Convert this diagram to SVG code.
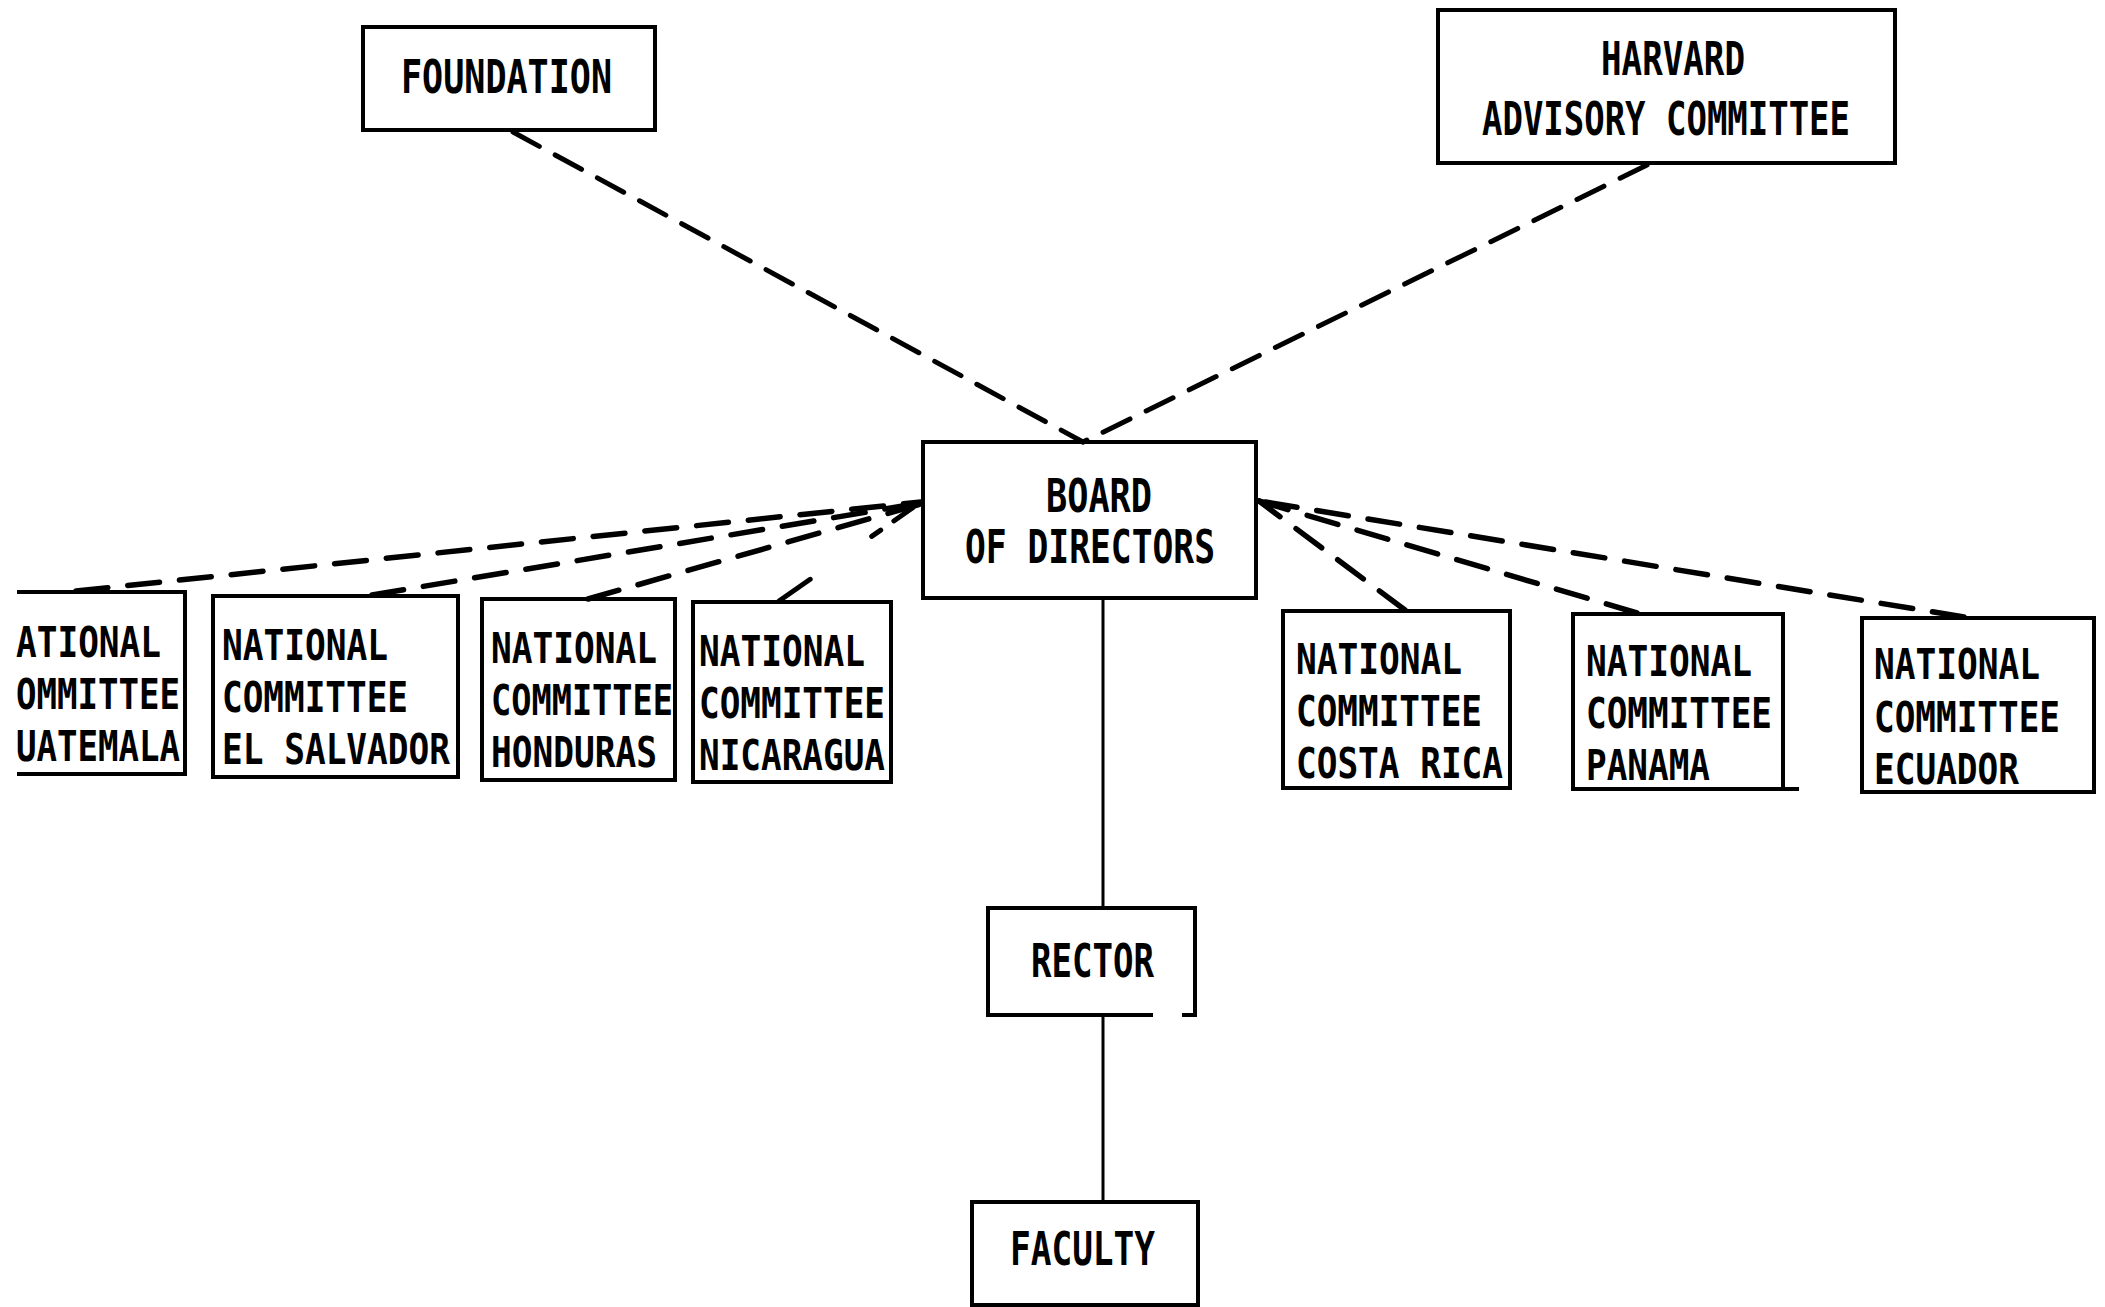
<svg xmlns="http://www.w3.org/2000/svg" width="2105" height="1307" viewBox="0 0 2105 1307">
<style>
.box{fill:none;stroke:#000;stroke-width:4;stroke-linejoin:miter}
.t{font-family:"DejaVu Sans Mono","Liberation Mono",monospace;font-size:46px;font-weight:bold;fill:#000}
.c{font-family:"DejaVu Sans Mono","Liberation Mono",monospace;font-size:43px;font-weight:bold;fill:#000}
.dash{stroke:#000;stroke-width:5;fill:none;stroke-dasharray:30 18;stroke-linecap:round}
.dash2{stroke:#000;stroke-width:5.5;fill:none;stroke-dasharray:32 20;stroke-linecap:round}
.solid{stroke:#000;stroke-width:3;fill:none}
</style>
<rect width="2105" height="1307" fill="#fff"/>
<g id="connectors">
<line class="dash" x1="513" y1="132" x2="1083" y2="442"/>
<line class="dash" x1="1647" y1="165" x2="1083" y2="442"/>
<line class="dash2" x1="76" y1="591" x2="921" y2="502"/>
<line class="dash2" x1="372" y1="595" x2="921" y2="503"/>
<line class="dash2" x1="588" y1="599" x2="921" y2="504"/>
<line stroke="#000" stroke-width="5" stroke-linecap="round" stroke-dasharray="38 75 11 16 23 20" x1="779" y1="601" x2="921" y2="502"/>
<line class="dash2" x1="1405" y1="610" x2="1259" y2="501"/>
<line class="dash2" x1="1637" y1="613" x2="1259" y2="501"/>
<line class="dash2" x1="1964" y1="617" x2="1259" y2="501"/>
<line class="solid" x1="1103" y1="598" x2="1103" y2="908"/>
<line class="solid" x1="1103" y1="1015" x2="1103" y2="1202"/>
</g>
<g id="foundation">
<rect class="box" x="363" y="27" width="292" height="103"/>
<text class="t" x="401" y="93" textLength="211" lengthAdjust="spacingAndGlyphs">FOUNDATION</text>
</g>
<g id="harvard">
<rect class="box" x="1438" y="10" width="457" height="153"/>
<text class="t" x="1601" y="75" textLength="144" lengthAdjust="spacingAndGlyphs">HARVARD</text>
<text class="t" x="1482" y="135" textLength="368" lengthAdjust="spacingAndGlyphs">ADVISORY COMMITTEE</text>
</g>
<g id="board">
<rect class="box" x="923" y="442" width="333" height="156"/>
<text class="t" x="1046" y="512" textLength="106" lengthAdjust="spacingAndGlyphs">BOARD</text>
<text class="t" x="965" y="563" textLength="250" lengthAdjust="spacingAndGlyphs">OF DIRECTORS</text>
</g>
<g id="nc-guatemala">
<path class="box" d="M17 592 H185 V774 H17"/>
<text class="c" x="16" y="657" textLength="145" lengthAdjust="spacingAndGlyphs">ATIONAL</text>
<text class="c" x="16" y="709" textLength="164" lengthAdjust="spacingAndGlyphs">OMMITTEE</text>
<text class="c" x="16" y="761" textLength="164" lengthAdjust="spacingAndGlyphs">UATEMALA</text>
</g>
<g id="nc-elsalvador">
<rect class="box" x="213" y="596" width="245" height="181"/>
<text class="c" x="222" y="660" textLength="166" lengthAdjust="spacingAndGlyphs">NATIONAL</text>
<text class="c" x="222" y="712" textLength="186" lengthAdjust="spacingAndGlyphs">COMMITTEE</text>
<text class="c" x="222" y="764" textLength="228" lengthAdjust="spacingAndGlyphs">EL SALVADOR</text>
</g>
<g id="nc-honduras">
<rect class="box" x="482" y="599" width="193" height="181"/>
<text class="c" x="491" y="663" textLength="166" lengthAdjust="spacingAndGlyphs">NATIONAL</text>
<text class="c" x="491" y="715" textLength="182" lengthAdjust="spacingAndGlyphs">COMMITTEE</text>
<text class="c" x="491" y="767" textLength="166" lengthAdjust="spacingAndGlyphs">HONDURAS</text>
</g>
<g id="nc-nicaragua">
<rect class="box" x="693" y="602" width="198" height="180"/>
<text class="c" x="699" y="666" textLength="166" lengthAdjust="spacingAndGlyphs">NATIONAL</text>
<text class="c" x="699" y="718" textLength="186" lengthAdjust="spacingAndGlyphs">COMMITTEE</text>
<text class="c" x="699" y="770" textLength="186" lengthAdjust="spacingAndGlyphs">NICARAGUA</text>
</g>
<g id="nc-costarica">
<rect class="box" x="1283" y="611" width="227" height="177"/>
<text class="c" x="1296" y="674" textLength="166" lengthAdjust="spacingAndGlyphs">NATIONAL</text>
<text class="c" x="1296" y="726" textLength="186" lengthAdjust="spacingAndGlyphs">COMMITTEE</text>
<text class="c" x="1296" y="778" textLength="207" lengthAdjust="spacingAndGlyphs">COSTA RICA</text>
</g>
<g id="nc-panama">
<path class="box" d="M1799 789 H1573 V614 H1783 V789"/>
<text class="c" x="1586" y="676" textLength="166" lengthAdjust="spacingAndGlyphs">NATIONAL</text>
<text class="c" x="1586" y="728" textLength="186" lengthAdjust="spacingAndGlyphs">COMMITTEE</text>
<text class="c" x="1586" y="780" textLength="124" lengthAdjust="spacingAndGlyphs">PANAMA</text>
</g>
<g id="nc-ecuador">
<rect class="box" x="1862" y="618" width="232" height="174"/>
<text class="c" x="1874" y="679" textLength="166" lengthAdjust="spacingAndGlyphs">NATIONAL</text>
<text class="c" x="1874" y="732" textLength="186" lengthAdjust="spacingAndGlyphs">COMMITTEE</text>
<text class="c" x="1874" y="784" textLength="145" lengthAdjust="spacingAndGlyphs">ECUADOR</text>
</g>
<g id="rector">
<path class="box" d="M1153 1015 H988 V908 H1195 V1015 H1182"/>
<text class="t" x="1031" y="977" textLength="123" lengthAdjust="spacingAndGlyphs">RECTOR</text>
</g>
<g id="faculty">
<rect class="box" x="972" y="1202" width="226" height="103"/>
<text class="t" x="1010" y="1265" textLength="145" lengthAdjust="spacingAndGlyphs">FACULTY</text>
</g>
</svg>
